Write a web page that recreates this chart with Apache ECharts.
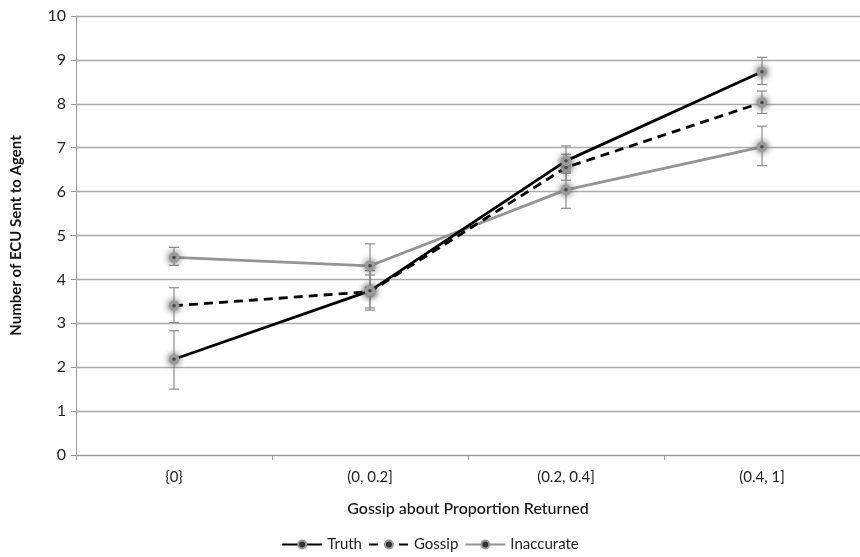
<!DOCTYPE html>
<html>
<head>
<meta charset="utf-8">
<script src="https://cdn.jsdelivr.net/npm/echarts@6/dist/echarts.min.js"></script>
<style>
  html, body { margin: 0; padding: 0; background: #fff; }
  #chart { width: 860px; height: 557px; }
</style>
</head>
<body>
<div id="chart"></div>
<script>
// categories on the x axis
const categories = ["{0}", "(0, 0.2]", "(0.2, 0.4]", "(0.4, 1]"];

// means
const truth = [2.18, 3.74, 6.7, 8.73];
const gossip = [3.4, 3.72, 6.55, 8.03];
const inaccurate = [4.5, 4.31, 6.04, 7.02];

// error bar ends (low / high)
const truthLow = [1.5, 3.3, 6.42, 8.44];
const truthHigh = [2.83, 4.2, 7.04, 9.06];
const gossipLow = [3.02, 3.35, 6.26, 7.78];
const gossipHigh = [3.81, 4.1, 6.85, 8.29];
const inaccurateLow = [4.32, 3.82, 5.62, 6.59];
const inaccurateHigh = [4.73, 4.81, 6.45, 7.49];

const FONT = "Lato, 'Open Sans', sans-serif";

const markerStyle = {
  color: "#333",
  borderColor: "#9a9a9a",
  borderWidth: 3.5,
  shadowBlur: 7,
  shadowColor: "rgba(90,90,90,0.9)",
};

function errorSeries(name, low, high) {
  return {
    name: name,
    type: "custom",
    z: 1,
    data: categories.map((c, i) => [i, low[i], high[i]]),
    renderItem: (params, api) => {
      const top = api.coord([api.value(0), api.value(2)]);
      const bot = api.coord([api.value(0), api.value(1)]);
      const w = 5;
      const st = { stroke: "#8c8c8c", lineWidth: 1.2 };
      return {
        type: "group",
        children: [
          { type: "line", shape: { x1: top[0], y1: top[1], x2: bot[0], y2: bot[1] }, style: st },
          { type: "line", shape: { x1: top[0] - w, y1: top[1], x2: top[0] + w, y2: top[1] }, style: st },
          { type: "line", shape: { x1: bot[0] - w, y1: bot[1], x2: bot[0] + w, y2: bot[1] }, style: st },
        ],
      };
    },
    tooltip: { show: false },
  };
}

function lineSeries(name, data, color, type) {
  return {
    name: name,
    type: "line",
    z: 3,
    data: data,
    symbol: "circle",
    symbolSize: 7,
    lineStyle: { color: color, width: 2.8, type: type },
    itemStyle: markerStyle,
  };
}

const chart = echarts.init(document.getElementById("chart"));
chart.setOption({
  animation: false,
  grid: { left: 76, right: -6, top: 16, bottom: 102 },
  legend: {
    data: ["Truth", "Gossip", "Inaccurate"],
    bottom: 0,
    left: "center",
    itemWidth: 40,
    itemHeight: 10,
    itemGap: 6,
    textStyle: { color: "#222", fontSize: 15, fontFamily: FONT },
  },
  xAxis: {
    type: "category",
    data: categories,
    name: "Gossip about Proportion Returned",
    nameLocation: "middle",
    nameGap: 46,
    nameTextStyle: { color: "#111", fontSize: 16, fontFamily: FONT, fontWeight: 500 },
    axisLine: { lineStyle: { color: "#9a9a9a", width: 1 } },
    axisTick: { show: true, length: 5, lineStyle: { color: "#9a9a9a" } },
    axisLabel: { color: "#222", fontSize: 15, fontFamily: FONT, margin: 15 },
  },
  yAxis: {
    type: "value",
    min: 0,
    max: 10,
    interval: 1,
    name: "Number of ECU Sent to Agent",
    nameLocation: "middle",
    nameGap: 52,
    nameTextStyle: { color: "#111", fontSize: 15, fontFamily: FONT, fontWeight: "bold" },
    axisLine: { show: true, lineStyle: { color: "#9a9a9a", width: 1 } },
    axisTick: { show: true, length: 5, lineStyle: { color: "#9a9a9a" } },
    axisLabel: { color: "#222", fontSize: 16, fontFamily: FONT, margin: 10 },
    splitLine: { lineStyle: { color: "#ababab", width: 1.3 } },
  },
  series: [
    errorSeries("errTruth", truthLow, truthHigh),
    errorSeries("errGossip", gossipLow, gossipHigh),
    errorSeries("errInaccurate", inaccurateLow, inaccurateHigh),
    lineSeries("Inaccurate", inaccurate, "#949494", "solid"),
    lineSeries("Gossip", gossip, "#000", [9, 6]),
    lineSeries("Truth", truth, "#000", "solid"),
  ],
});
window.addEventListener("resize", () => chart.resize());
</script>
</body>
</html>
